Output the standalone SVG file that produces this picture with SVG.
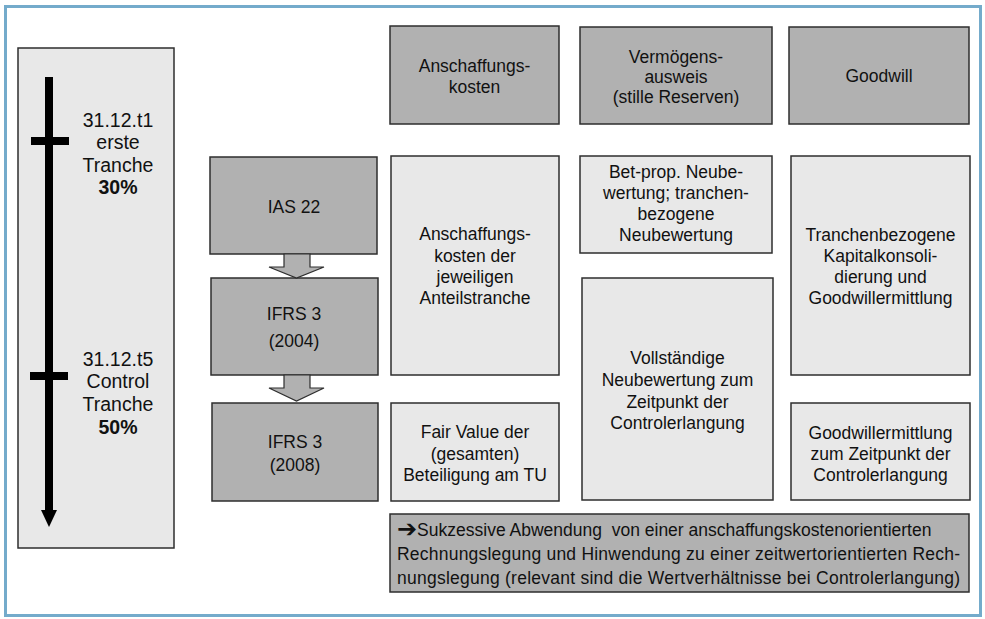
<svg xmlns="http://www.w3.org/2000/svg" width="985" height="619" viewBox="0 0 985 619">
<style>
  text { font-family: "Liberation Sans", Arial, sans-serif; fill: #111; }
  .t { font-size: 17.5px; text-anchor: middle; }
  .l { font-size: 19.5px; text-anchor: middle; }
  .b { font-weight: bold; }
  .dark { fill: #b1b1b1; stroke: #2e2e2e; stroke-width: 1.5; }
  .light { fill: #e8e8e8; stroke: #2e2e2e; stroke-width: 1.5; }
  .blk { fill: #b1b1b1; stroke: #2e2e2e; stroke-width: 1.2; }
</style>
<rect x="0" y="0" width="985" height="619" fill="#fff"/>
<rect x="5.5" y="6.5" width="975" height="609" fill="none" stroke="#74abcb" stroke-width="3"/>

<g id="timeline">
  <rect class="light" x="18" y="48" width="156" height="500"/>
  <rect x="45" y="77" width="8" height="435" fill="#000"/>
  <polygon points="41,510 57,510 49,527" fill="#000"/>
  <rect x="31" y="137" width="38" height="8" fill="#000"/>
  <rect x="30" y="372" width="38" height="8" fill="#000"/>
  <text class="l" x="118" y="127">31.12.t1</text>
  <text class="l" x="118" y="149">erste</text>
  <text class="l" x="118" y="172">Tranche</text>
  <text class="l b" x="118" y="194">30%</text>
  <text class="l" x="118" y="366">31.12.t5</text>
  <text class="l" x="118" y="388">Control</text>
  <text class="l" x="118" y="411">Tranche</text>
  <text class="l b" x="118" y="434">50%</text>
</g>

<g id="h-anschaffungskosten">
  <rect class="dark" x="390" y="26" width="169" height="98"/>
  <text class="t" x="474.5" y="72">Anschaffungs-</text>
  <text class="t" x="474.5" y="93">kosten</text>
</g>
<g id="h-vermoegensausweis">
  <rect class="dark" x="580" y="27" width="192" height="97"/>
  <text class="t" x="676" y="63">Vermögens-</text>
  <text class="t" x="676" y="83">ausweis</text>
  <text class="t" x="676" y="103">(stille Reserven)</text>
</g>
<g id="h-goodwill">
  <rect class="dark" x="789" y="27" width="180" height="97"/>
  <text class="t" x="879" y="82">Goodwill</text>
</g>

<g id="ias22">
  <rect class="dark" x="210" y="157" width="167" height="97"/>
  <text class="t" x="294" y="213">IAS 22</text>
</g>
<g id="ifrs2004">
  <rect class="dark" x="211" y="278" width="167" height="97"/>
  <text class="t" x="294" y="320">IFRS 3</text>
  <text class="t" x="294" y="347">(2004)</text>
</g>
<g id="ifrs2008">
  <rect class="dark" x="212" y="403" width="166" height="98"/>
  <text class="t" x="295" y="448">IFRS 3</text>
  <text class="t" x="295" y="471">(2008)</text>
</g>

<g id="connectors">
  <polygon class="blk" points="284,254 310,254 310,267 324,267 296.5,278 269,267 284,267"/>
  <polygon class="blk" points="284,375 310,375 310,388 324,388 296.5,401 269,388 284,388"/>
</g>

<g id="ak-anteilstranche">
  <rect class="light" x="391" y="156" width="168" height="219"/>
  <text class="t" x="475" y="240">Anschaffungs-</text>
  <text class="t" x="475" y="262">kosten der</text>
  <text class="t" x="475" y="283">jeweiligen</text>
  <text class="t" x="475" y="304">Anteilstranche</text>
</g>
<g id="fair-value">
  <rect class="light" x="391" y="403" width="168" height="98"/>
  <text class="t" x="475" y="438">Fair Value der</text>
  <text class="t" x="475" y="460">(gesamten)</text>
  <text class="t" x="475" y="481">Beteiligung am TU</text>
</g>

<g id="bet-prop">
  <rect class="light" x="580" y="156" width="192" height="97"/>
  <text class="t" x="676" y="178">Bet-prop. Neube-</text>
  <text class="t" x="676" y="199">wertung; tranchen-</text>
  <text class="t" x="676" y="220">bezogene</text>
  <text class="t" x="676" y="241">Neubewertung</text>
</g>
<g id="vollstaendig">
  <rect class="light" x="582" y="278" width="191" height="222"/>
  <text class="t" x="677.5" y="364">Vollständige</text>
  <text class="t" x="677.5" y="386">Neubewertung  zum</text>
  <text class="t" x="677.5" y="408">Zeitpunkt der</text>
  <text class="t" x="677.5" y="429">Controlerlangung</text>
</g>

<g id="tranchen-kapkons">
  <rect class="light" x="791" y="156" width="179" height="219"/>
  <text class="t" x="880.5" y="241">Tranchenbezogene</text>
  <text class="t" x="880.5" y="262">Kapitalkonsoli-</text>
  <text class="t" x="880.5" y="283">dierung und</text>
  <text class="t" x="880.5" y="304">Goodwillermittlung</text>
</g>
<g id="goodwill-control">
  <rect class="light" x="791" y="403" width="179" height="97"/>
  <text class="t" x="880.5" y="439">Goodwillermittlung</text>
  <text class="t" x="880.5" y="460">zum Zeitpunkt der</text>
  <text class="t" x="880.5" y="481">Controlerlangung</text>
</g>

<g id="fazit">
  <rect class="dark" x="390" y="514" width="579" height="78"/>
  <text x="397" y="536" style="font-size:17.5px" xml:space="preserve"><tspan font-family="'DejaVu Sans', sans-serif" font-size="24px" font-weight="bold" dy="1">➔</tspan><tspan dy="-1">Sukzessive Abwendung  von einer anschaffungskostenorientierten</tspan></text>
  <text x="397" y="560" style="font-size:17.5px" textLength="563" lengthAdjust="spacing">Rechnungslegung und Hinwendung zu einer zeitwertorientierten Rech-</text>
  <text x="397" y="584" style="font-size:17.5px" textLength="563" lengthAdjust="spacing">nungslegung (relevant sind die Wertverhältnisse bei Controlerlangung)</text>
</g>
</svg>
